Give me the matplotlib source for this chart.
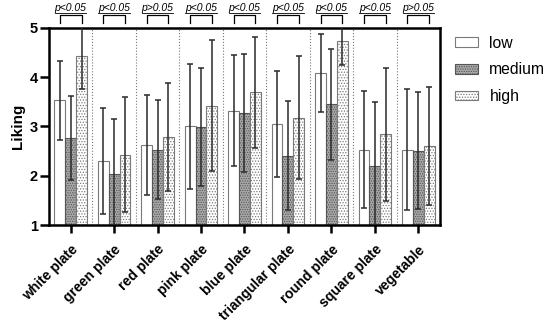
import numpy as np
import matplotlib
matplotlib.use('Agg')
import matplotlib.pyplot as plt
import matplotlib.transforms as mtransforms

plt.rcParams['font.family'] = ['Liberation Sans', 'DejaVu Sans']
plt.rcParams['hatch.linewidth'] = 0.6

# data (mean and SD per condition)
categories = ['white plate', 'green plate', 'red plate', 'pink plate', 'blue plate',
              'triangular plate', 'round plate', 'square plate', 'vegetable']
low_mean = [3.53, 2.30, 2.62, 3.00, 3.32, 3.05, 4.09, 2.53, 2.53]
low_sd = [0.80, 1.08, 1.01, 1.27, 1.13, 1.08, 0.79, 1.19, 1.22]
medium_mean = [2.76, 2.04, 2.53, 2.99, 3.27, 2.41, 3.45, 2.20, 2.51]
medium_sd = [0.85, 1.12, 1.01, 1.19, 1.20, 1.10, 1.13, 1.30, 1.19]
high_mean = [4.42, 2.43, 2.78, 3.42, 3.69, 3.18, 4.74, 2.84, 2.61]
high_sd = [0.66, 1.17, 1.10, 1.33, 1.13, 1.25, 0.49, 1.35, 1.20]
p_labels = ['p<0.05', 'p<0.05', 'p>0.05', 'p<0.05', 'p<0.05',
            'p<0.05', 'p<0.05', 'p<0.05', 'p>0.05']

fig = plt.figure(figsize=(5.5, 3.28), dpi=100)
fig.subplots_adjust(left=0.089, right=0.80, bottom=0.314, top=0.915)
ax = fig.add_subplot(111)

x = np.arange(len(categories))
w = 0.25
edge = '#7a7a7a'
errc = '#2a2a2a'

ax.bar(x - w, low_mean, w, color='white', edgecolor=edge, linewidth=0.8, label='low', zorder=2)
ax.bar(x, medium_mean, w, color='#a8a8a8', edgecolor='#555555', hatch='.......', linewidth=0.8, label='medium', zorder=2)
ax.bar(x + w, high_mean, w, color='white', edgecolor=edge, hatch='......', linewidth=0.8, label='high', zorder=2)

for off, m, s in [(-w, low_mean, low_sd), (0, medium_mean, medium_sd), (w, high_mean, high_sd)]:
    ax.errorbar(x + off, m, yerr=s, fmt='none', ecolor=errc, elinewidth=1.1,
                capsize=2.3, capthick=1.1, zorder=3)

# dotted separators between groups
for xs in x[:-1] + 0.5:
    ax.axvline(xs, color='#777777', linestyle=':', linewidth=0.8, zorder=1)

ax.set_xlim(-0.5, len(categories) - 0.5)
ax.set_ylim(1, 5)
ax.set_yticks([1, 2, 3, 4, 5])
ax.set_xticks(x)
ax.set_xticklabels(categories, rotation=45, ha='right', rotation_mode='anchor',
                   fontsize=10, fontweight='bold')
for lab in ax.get_yticklabels():
    lab.set_fontweight('bold')
    lab.set_fontsize(10.5)
ax.tick_params(axis='y', width=1.8, length=6.5, pad=1.5)
ax.tick_params(axis='x', width=1.8, length=5.5, pad=7)
for sp in ax.spines.values():
    sp.set_linewidth(1.8)
ax.set_ylabel('Liking', fontsize=11, fontweight='bold', labelpad=3.6)

# significance brackets above the axes
trans = mtransforms.blended_transform_factory(ax.transData, ax.transAxes)
for i, p in enumerate(p_labels):
    ax.plot([i - w, i - w, i + w, i + w], [1.025, 1.0675, 1.0675, 1.025], color='black',
            linewidth=0.9, transform=trans, clip_on=False)
    ax.text(i, 1.078, p, transform=trans, ha='center', va='bottom',
            fontsize=7.5, style='italic')
    ax.plot([i - 0.36, i + 0.36], [1.074, 1.074], color='black', linewidth=0.6,
            transform=trans, clip_on=False)

ax.legend(loc='center left', bbox_to_anchor=(1.022, 0.787), frameon=False, fontsize=11.3,
          handlelength=1.45, handleheight=0.55, labelspacing=0.75, handletextpad=0.75,
          borderaxespad=0, borderpad=0.4)

fig.savefig('out.png', dpi=100)
